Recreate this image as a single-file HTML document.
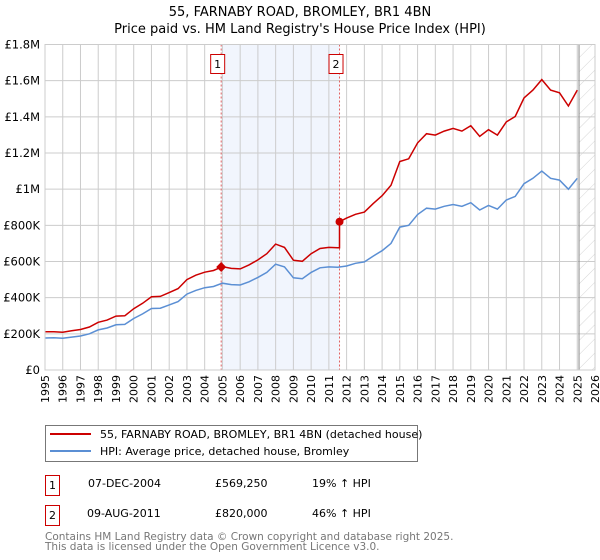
<!DOCTYPE html>
<html><head><meta charset="utf-8">
<style>
body{margin:0;background:#fff;}
svg{display:block;font-family:"DejaVu Sans","Liberation Sans",sans-serif;}
</style></head>
<body>
<svg id="chart" width="600" height="560" viewBox="0 0 600 560" xmlns="http://www.w3.org/2000/svg">
<defs>
<pattern id="hatch" patternUnits="userSpaceOnUse" width="10" height="10" patternTransform="rotate(45)">
<line x1="0" y1="0" x2="0" y2="10" stroke="#ccc" stroke-width="0.8"/>
</pattern>
</defs>
<text x="300" y="16" text-anchor="middle" font-size="13">55, FARNABY ROAD, BROMLEY, BR1 4BN</text>
<text x="300" y="33" text-anchor="middle" font-size="13">Price paid vs. HM Land Registry's House Price Index (HPI)</text>
<g id="plot"></g>
<g>
<rect x="45.5" y="425.5" width="372" height="36" fill="#fff" stroke="#777"/>
<line x1="50" y1="434" x2="91" y2="434" stroke="#cc0000" stroke-width="2"/>
<text x="100" y="438" font-size="11">55, FARNABY ROAD, BROMLEY, BR1 4BN (detached house)</text>
<line x1="50" y1="451" x2="91" y2="451" stroke="#5b8fd4" stroke-width="2"/>
<text x="100" y="455" font-size="11">HPI: Average price, detached house, Bromley</text>
</g>
<g font-size="11">
<rect x="45.5" y="475.5" width="14" height="20" fill="#fff" stroke="#cc0000"/>
<text x="52.5" y="489" text-anchor="middle">1</text>
<text x="88" y="487">07-DEC-2004</text>
<text x="215" y="487">£569,250</text>
<text x="312" y="487">19% ↑ HPI</text>
</g>
<g font-size="11">
<rect x="45.5" y="505.5" width="14" height="20" fill="#fff" stroke="#cc0000"/>
<text x="52.5" y="519" text-anchor="middle">2</text>
<text x="87" y="517">09-AUG-2011</text>
<text x="215" y="517">£820,000</text>
<text x="312" y="517">46% ↑ HPI</text>
</g>
<text x="45" y="540" font-size="10.5" fill="#777">Contains HM Land Registry data © Crown copyright and database right 2025.</text>
<text x="45" y="550" font-size="10.5" fill="#777">This data is licensed under the Open Government Licence v3.0.</text>
</svg>
<script>
const years=[1995,1995.5,1996,1996.5,1997,1997.5,1998,1998.5,1999,1999.5,2000,2000.5,2001,2001.5,2002,2002.5,2003,2003.5,2004,2004.5,2005,2005.5,2006,2006.5,2007,2007.5,2008,2008.5,2009,2009.5,2010,2010.5,2011,2011.5,2012,2012.5,2013,2013.5,2014,2014.5,2015,2015.5,2016,2016.5,2017,2017.5,2018,2018.5,2019,2019.5,2020,2020.5,2021,2021.5,2022,2022.5,2023,2023.5,2024,2024.5,2025];
const hpiValues=[177,178,176,182,188,200,222,232,250,252,285,310,340,342,360,378,420,440,455,462,480,472,470,488,512,540,585,570,510,505,540,565,570,568,575,590,598,630,660,700,790,800,860,895,890,905,915,905,925,885,910,890,940,960,1030,1060,1100,1060,1050,1000,1060];
const priceValues=[211,212,209,217,224,238,264,276,298,300,339,369,405,407,428,450,500,524,541,550,571,562,559,581,609,643,696,678,607,601,643,672,678,676,840,861,873,920,964,1022,1153,1168,1256,1307,1299,1321,1336,1321,1351,1292,1329,1299,1372,1402,1504,1548,1606,1548,1533,1460,1548];
const saleYears=[2004.93,2011.6];
const salePrices=[569.25,820];
const saleLabels=["1","2"];
const yTicks=[0,200,400,600,800,1000,1200,1400,1600,1800];
const yTickLabels=["£0","£200K","£400K","£600K","£800K","£1M","£1.2M","£1.4M","£1.6M","£1.8M"];
const xTicks=[1995,1996,1997,1998,1999,2000,2001,2002,2003,2004,2005,2006,2007,2008,2009,2010,2011,2012,2013,2014,2015,2016,2017,2018,2019,2020,2021,2022,2023,2024,2025,2026];
const dataEnd=2025.1;

const L=45,R=595,T=44.5,B=370,X0=1995,X1=2026,YMAX=1800;
const xs=v=>L+(v-X0)/(X1-X0)*(R-L);
const ys=v=>B-v/YMAX*(B-T);
const NS="http://www.w3.org/2000/svg";
const plot=document.getElementById('plot');
function mk(tag,attrs,parent){const e=document.createElementNS(NS,tag);for(const k in attrs)e.setAttribute(k,attrs[k]);(parent||plot).appendChild(e);return e;}

const bg=mk('rect',{x:L,y:T,width:R-L,height:B-T,fill:'#fff'});


const shade=mk('rect',{x:xs(saleYears[0]),y:T,width:xs(saleYears[1])-xs(saleYears[0]),height:B-T,fill:'#eef3fc',opacity:0.8});


const hatch=mk('rect',{x:xs(dataEnd),y:T,width:R-xs(dataEnd),height:B-T,fill:'url(#hatch)'});



xTicks.forEach(t=>{
  const g=mk('line',{x1:xs(t),x2:xs(t),y1:T,y2:B,stroke:'#ccc','stroke-width':1});
  
  
  const tx=mk('text',{transform:`translate(${xs(t)+4},375) rotate(-90)`,'text-anchor':'end','font-size':11});
  tx.textContent=t;
  
  
});
yTicks.forEach((t,i)=>{
  const g=mk('line',{x1:L,x2:R,y1:ys(t),y2:ys(t),stroke:'#ccc','stroke-width':1});
  
  
  const tx=mk('text',{x:L-5,y:ys(t)+4,'text-anchor':'end','font-size':11.5});
  tx.textContent=yTickLabels[i];
  
  
});
const endLine=mk('line',{x1:xs(dataEnd),x2:xs(dataEnd),y1:T,y2:B,stroke:'#888','stroke-width':1});



saleYears.forEach((s,i)=>{
  const v=mk('line',{x1:xs(s),x2:xs(s),y1:T,y2:B,stroke:'#e06060','stroke-width':1,'stroke-dasharray':'2,2'});
  
  
  const b=mk('rect',{x:xs(s)-10.5,y:54.5,width:14,height:19,fill:'#fff',stroke:'#cc0000'});
  
  
  const t=mk('text',{x:xs(s)-3.5,y:68,'text-anchor':'middle','font-size':11});
  t.textContent=saleLabels[i];
  
  
});

const hp=mk('path',{d:years.map((y,i)=>(i?'L':'M')+xs(y).toFixed(1)+','+ys(hpiValues[i]).toFixed(1)).join(''),fill:'none',stroke:'#5b8fd4','stroke-width':1.5});



let pts=[];
years.forEach((y,i)=>{
  if(i>0 && years[i-1]<saleYears[1] && y>saleYears[1]){
    pts.push([saleYears[1],priceValues[i-1]]);
    pts.push([saleYears[1],salePrices[1]]);
  }
  pts.push([y,priceValues[i]]);
});
const pp=mk('path',{d:pts.map((p,i)=>(i?'L':'M')+xs(p[0]).toFixed(1)+','+ys(p[1]).toFixed(1)).join(''),fill:'none',stroke:'#cc0000','stroke-width':1.5});



saleYears.forEach((s,i)=>{
  let m;
  if(i===0){const cx=xs(s),cy=ys(salePrices[i]);m=mk('path',{d:`M${cx},${cy-5}L${cx+5},${cy}L${cx},${cy+5}L${cx-5},${cy}Z`,fill:'#cc0000'});}
  else m=mk('circle',{cx:xs(s),cy:ys(salePrices[i]),r:4,fill:'#cc0000'});
  
  
});
const frame=mk('rect',{x:L,y:T,width:R-L,height:B-T,fill:'none',stroke:'#ccc'});


</script>
</body></html>
